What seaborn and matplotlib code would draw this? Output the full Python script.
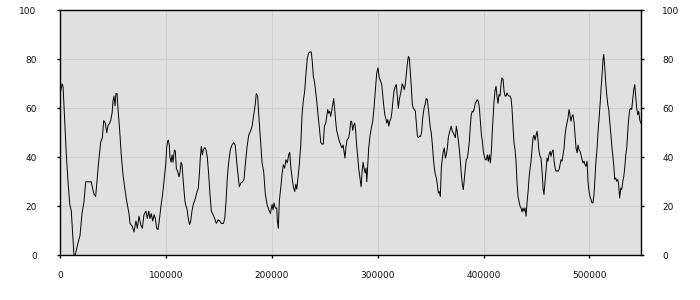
import matplotlib
matplotlib.use("Agg")
import matplotlib.pyplot as plt
import seaborn as sns
import pandas as pd

# ---- data ----
x_vals = [
    0, 1600, 2600, 3500, 4200, 5700, 7300, 8900, 10400, 11700,
    12900, 14100, 16100, 18600, 20500, 22400, 24000, 27800, 29300, 30200,
    31800, 33400, 34600, 36200, 38100, 39700, 41000, 42500, 43900, 45100,
    46700, 47600, 48900, 49800, 50700, 51700, 52600, 53600, 54500, 56100,
    57600, 59200, 60900, 62400, 64000, 64900, 65900, 67800,
    69600, 71500, 72800, 74400, 76000, 77500, 79100, 80900, 82200, 83600,
    84800, 86000, 87300, 88600, 89800, 91100, 92300, 93500, 95100, 96700,
    98300, 99600, 100500, 101400, 102000, 103000, 103600, 104700, 105600, 106500,
    107800, 108700, 109600, 111000, 112200, 113100, 114100, 115000, 116200, 117800,
    118800, 119700, 120900, 122200, 123200, 124400, 125600, 127300, 128900, 130400,
    131400, 132300, 133300, 134200, 135100, 136700,
    137700, 138900, 140200, 141400, 142700, 144300, 145900, 147400, 149100, 150700,
    152200, 154100, 155400, 156600, 157800, 159100, 160600, 162200, 163800, 165300,
    166700, 167900, 169100, 170700, 172300, 173600, 174800, 176400, 178000, 179600,
    181200, 182800, 184300, 185200, 186500, 187500, 189000, 190600, 192200, 193700,
    195400, 197000, 198500, 200100, 201000, 201900, 203200, 204500,
    205100, 206000, 206900, 208300, 209500, 210700, 212000, 213200, 214500, 215800,
    216800, 217800, 219000, 220200, 221500, 222500, 223400, 224600, 225800, 227200,
    228400, 229600, 230900, 232100, 233400, 234700, 235900, 237100, 238100, 239100,
    240100, 241000, 242300, 243500, 244800, 246100, 247300, 248500, 249500, 250800,
    251700, 252700, 253600, 254500, 255500, 256400, 257400, 258300, 259300, 260200,
    261100, 262500, 263700, 265000, 266200, 267200, 268100, 269000, 270000,
    270900, 272500, 273500, 274400, 275300, 276300, 277200, 278200, 279100, 280000,
    281000, 281900, 283100, 284200, 285100, 286100, 287000, 288000, 288900, 289600,
    290500, 291400, 292700, 293900, 295200, 296400, 297600, 299000, 300200, 301400,
    302700, 303700, 304600, 305500, 306600, 307500, 308500, 309400, 310400, 311300,
    312500, 313400, 314400, 315300, 316600, 317500, 318400, 319400, 320300, 321300,
    322200, 323100, 324100, 325000, 326000, 326900, 327800, 328900, 329800, 330800,
    331700, 332600, 333600, 334500, 335500, 336400, 337400, 338300, 339300, 340500,
    341500,
    342400, 343700, 344900, 345800, 346800, 347700, 348600, 349600, 350500, 351600,
    352500, 353400, 354400, 355300, 356300, 357200, 358100, 359100, 360000, 361000,
    361900, 362800, 363800, 364700, 365700, 366600, 367600, 368500, 369400, 370400,
    371300, 372300, 373300, 374200, 375200, 376100, 377100, 378000, 378900, 379900,
    380800, 381800, 382700, 383600, 384600, 385500, 386500, 387400, 388300, 389300,
    390200, 391200, 392100, 393100, 394000, 395000, 396000, 396900, 397900, 398800,
    399700, 400700, 401600, 402600, 403500, 404400, 405400, 406300, 407300, 408200,
    409100,
    409800, 410700, 411700, 412600, 413600, 414500, 415500, 416400, 417300, 418400,
    419300, 420300, 421200, 422100, 423100, 424000, 425000, 425900, 426800, 427800,
    428700, 429700, 430600, 431500, 432500, 433400, 434400, 435300, 436300, 437200,
    438100, 439100, 440100, 441100, 442000, 442900, 443900, 444800, 445800, 446700,
    447600, 448600, 449500, 450500, 451400, 452300, 453300, 454200, 455200, 456100,
    457000, 458000, 458900, 459900, 460800, 461700, 462800, 463700, 464700, 465600,
    466600, 467500, 468400, 469400, 470300, 471300, 472200, 473100, 474100,
    475000, 476000, 476900, 477800, 478800, 479700, 480700, 481600, 482500, 483500,
    484400, 485500, 486400, 487300, 488300, 489200, 490200, 491100, 492000, 493000,
    493900, 494900, 495800, 496700, 497700, 498600, 499600, 500500, 501400, 502400,
    503300, 504300, 505200, 506100, 507200, 508100, 509100, 510000, 511000, 511900,
    512800, 513500, 514400, 515400, 516300, 517300, 518200, 519100, 520100, 521000,
    522000, 522900, 523800, 524800, 525700, 526700, 527600, 528500, 529600, 530500,
    531500, 532400, 533300, 534300, 535200, 536200, 537100, 538100, 539000, 539900,
    540900, 541800, 542800, 543700, 544600, 545600, 546500, 547500, 548400,
]

y_vals = [
    66, 70, 69, 61, 54, 41, 30, 21, 18, 9,
    0, 0, 4, 8, 17, 22, 30, 30, 30, 28,
    25, 24, 30, 38, 46, 48, 55, 54, 50, 53,
    54, 55, 58, 63, 65, 61, 66, 66, 60, 51,
    41, 33, 27.5, 23, 19, 17, 13, 12,
    9.5, 14, 11, 16, 12.5, 11, 16.6, 18, 15, 18,
    15, 17, 14, 16.6, 15, 11, 10.5, 14, 20, 25,
    31.6, 37, 44, 46.5, 47, 45, 40, 38, 41, 38,
    43, 42.5, 35.6, 34, 32, 34, 38, 37, 30, 22,
    20, 19, 15, 12.5, 14, 18, 20.7, 22.7, 25.4, 27.5,
    33, 40, 44.5, 41, 43, 44,
    43, 40, 33, 25, 18, 16.6, 15, 13, 14.5, 14,
    13, 13, 15, 22, 31.6, 38, 43, 45, 46, 45,
    38, 33, 28, 29.5, 30, 31, 37, 44, 49, 50.6,
    52.6, 57.4, 62, 66, 65, 57.4, 48, 38, 34, 25,
    20.7, 18.6, 17, 20.7, 18.6, 21.4, 19.3, 19.3,
    14, 11, 22, 27.5, 33, 37, 35.6, 39, 37.7, 41,
    42, 36, 31.6, 28, 26, 29, 27, 31.6, 37, 45,
    57.4, 63, 67, 74, 80.5, 82.6, 83, 83, 79, 73,
    71, 68, 63, 57.4, 52, 46, 45.4, 45.4, 52.6, 54,
    56.7, 59.5, 58, 58.8, 56.7, 58.8, 61.5, 64, 59.5, 54.7,
    51, 48.6, 46.5, 45, 43.8, 45, 42.4, 39.7, 44.5,
    47, 48, 50.6, 54.7, 54.7, 51, 53, 54, 50.6, 45,
    40.4, 35.6, 31.6, 28, 34, 38, 35.6, 33.6, 35.6, 30,
    37, 43.8, 49, 52, 54.7, 60, 67, 74.4, 76.5, 72.4,
    71, 69.7, 65.6, 61.5, 57.4, 56, 54, 55.4, 52.7, 54.7,
    56, 58.8, 63.5, 67, 69, 69.7, 65, 60, 63.5, 65.6,
    67.6, 70, 69, 67.6, 69.7, 73.7, 77.8, 81.2, 80.5, 74.4,
    68.3, 61.5, 60, 59.5, 58.8, 54, 48.6, 48, 48.6, 48.6,
    50.6,
    56, 60, 62, 64, 63.5, 60, 56, 52, 50, 45,
    39.7, 35.6, 33, 31.6, 28.8, 25.4, 26, 24, 35.6, 39.7,
    42.4, 43.8, 39.7, 41, 43.8, 48, 50, 51.3, 52.7, 50.6,
    50, 49, 48, 52.7, 50, 46.5, 43, 38.4, 33, 28.8,
    26.8, 31.6, 35.6, 39, 39.7, 42.4, 46.5, 52.7, 57.4, 58.8,
    58.5, 60, 62, 62.8, 63.5, 62.8, 60, 54.7, 49, 46.5,
    42.4, 40.4, 39, 39, 41, 38.4, 41, 37.7, 42.4, 50.6,
    57.4,
    62.8, 67, 69, 65, 62, 65.6, 65, 69.7, 72.4, 71.7,
    67, 65, 65, 66.3, 65.3, 65, 65, 64, 60, 52,
    45.9, 43, 38.4, 30, 24, 22, 20, 19.3, 17.7, 19.3,
    18, 19.3, 16, 22, 26, 31.6, 35.6, 38.4, 43.8, 48,
    49, 47, 49, 50.6, 47, 42.4, 40.4, 39.7, 34.3, 27.5,
    24.8, 30, 34.3, 39.7, 38.4, 41, 42.4, 40.4, 42.4, 43,
    38.4, 35.6, 34.3, 34.6, 34.3, 35, 37, 39, 38.4,
    41, 43.8, 49, 52, 54, 56, 59.5, 57.4, 54.7, 56.7,
    57.4, 54, 49, 43.8, 41.8, 45, 43, 42.4, 41, 39,
    37.7, 38.4, 37, 36.3, 38.4, 30, 26, 24, 22.7, 21.4,
    21.4, 24.8, 31.6, 38.4, 43.8, 50.6, 56, 61.5, 68.3, 73.7,
    79.9, 82, 77, 70.3, 65.6, 61.5, 59.5, 54.7, 50, 45,
    41, 37, 31, 31.6, 30.2, 31, 28.8, 23.4, 27.5, 26.8,
    30.2, 32.2, 35.6, 41, 43.8, 50.6, 56, 59.5, 60, 59.5,
    64, 67.6, 69.7, 65, 60, 57.4, 58.8, 55.4, 54,
]

x_ticks = [0, 100000, 200000, 300000, 400000, 500000]
x_tick_labels = ["0", "100000", "200000", "300000", "400000", "500000"]
y_ticks = [0, 20, 40, 60, 80, 100]
y_tick_labels = ["0", "20", "40", "60", "80", "100"]

df = pd.DataFrame({"x": x_vals, "y": y_vals})

# ---- figure ----
fig = plt.figure(figsize=(7, 3), dpi=100)
W, H = 700, 300
L, R, T, B = 60.3, 640.7, 10.3, 255.3
ax = fig.add_axes([L / W, 1 - B / H, (R - L) / W, (B - T) / H])
ax.set_facecolor("#e0e0e0")

sns.lineplot(data=df, x="x", y="y", ax=ax, color="black", linewidth=0.7,
             estimator=None, sort=False)

ax.set_xlim(0, x_vals[-1])
ax.set_ylim(0, 100)
ax.set_xticks(x_ticks, labels=x_tick_labels)
ax.set_yticks(y_ticks, labels=y_tick_labels)
ax.set_xlabel("")
ax.set_ylabel("")

ax.grid(True, color="#d0d0d0", linewidth=0.75)
ax.set_axisbelow(True)

for s in ax.spines.values():
    s.set_color("black")
    s.set_linewidth(1.0)

fs = 6.5
ax.tick_params(axis="x", length=2, width=1, color="black", pad=9,
               labelsize=fs, labelcolor="#111111")
ax.tick_params(axis="y", length=2, width=1, color="black", pad=15,
               labelsize=fs, labelcolor="#111111")

ax2 = ax.twinx()
ax2.set_ylim(0, 100)
ax2.set_yticks(y_ticks, labels=y_tick_labels)
ax2.tick_params(axis="y", length=2, width=1, color="black", pad=13.5,
                labelsize=fs, labelcolor="#111111")
for s in ax2.spines.values():
    s.set_visible(False)

fig.savefig("out.png", dpi=100)
